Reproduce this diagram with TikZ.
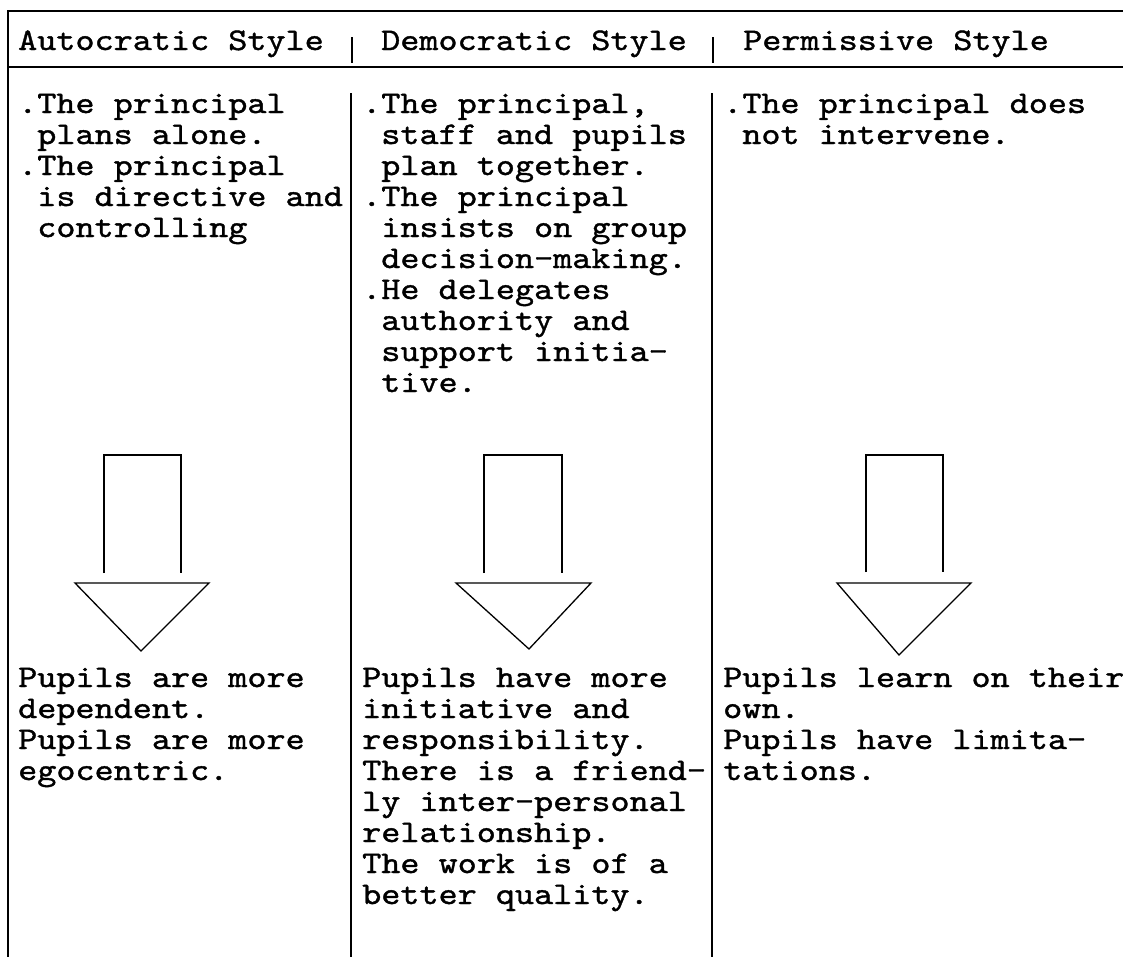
\documentclass[tikz,border=0pt]{standalone}
\usepackage{fontspec}
\newfontfamily\cour[FakeStretch=1.155,FakeBold=1.2]{lmmono10-regular.otf}
\newcommand\rowl[1]{\hbox{#1}}
\newcommand\ind{\phantom{.}}
\begin{document}
\begin{tikzpicture}[x=1pt,y=-1pt,
  rule/.style={line width=1.7pt, black},
  arrowline/.style={line width=1.3pt, black, line join=miter},
  txt/.style={anchor=base west, inner sep=0pt, font=\cour\fontsize{31.5pt}{31pt}\selectfont},
]
\useasboundingbox (0,0) rectangle (1123,961);
% frame
\coordinate (tl) at (8,11);
\coordinate (tr) at (1123,11);
\coordinate (bl) at (8,957);
\draw[rule] (tr) -- (tl) -- (bl);
\coordinate (hl) at (8,67);
\coordinate (hr) at (1123,67);
\draw[rule] (hl) -- (hr);
% header bars
\coordinate (hb1t) at (352,37); \coordinate (hb1b) at (352,63);
\coordinate (hb2t) at (713,37); \coordinate (hb2b) at (713,63);
\draw[rule] (hb1t) -- (hb1b);
\draw[rule] (hb2t) -- (hb2b);
% column dividers
\coordinate (d1t) at (351,93); \coordinate (d1b) at (351,957);
\coordinate (d2t) at (712,93); \coordinate (d2b) at (712,957);
\draw[rule] (d1t) -- (d1b);
\draw[rule] (d2t) -- (d2b);
% header
\node[txt] (h1) at (18,50) {Autocratic Style};
\node[txt] (h2) at (381,50) {Democratic Style};
\node[txt] (h3) at (743,50) {Permissive Style};
% top texts
\node[txt] (t1) at (18,113) {\vtop{\rowl{.The principal}\rowl{\ind plans alone.}\rowl{.The principal}\rowl{\ind is directive and}\rowl{\ind controlling}}};
\node[txt] (t2) at (362,113) {\vtop{\rowl{.The principal,}\rowl{\ind staff and pupils}\rowl{\ind plan together.}\rowl{.The principal}\rowl{\ind insists on group}\rowl{\ind decision-making.}\rowl{.He delegates}\rowl{\ind authority and}\rowl{\ind support initia-}\rowl{\ind tive.}}};
\node[txt] (t3) at (723,113) {\vtop{\rowl{.The principal does}\rowl{\ind not intervene.}}};
% arrows
\draw[arrowline] (104,573) -- (104,455) -- (181,455) -- (181,573);
\draw[arrowline] (75,583) -- (209,583) -- (141,651) -- cycle;
\draw[arrowline] (484,573) -- (484,455) -- (562,455) -- (562,573);
\draw[arrowline] (456,583) -- (591,583) -- (529,649) -- cycle;
\draw[arrowline] (866,572) -- (866,455) -- (943,455) -- (943,572);
\draw[arrowline] (837,583) -- (971,583) -- (899,655) -- cycle;
% bottom texts
\node[txt] (b1) at (18,687) {\vtop{\rowl{Pupils are more}\rowl{dependent.}\rowl{Pupils are more}\rowl{egocentric.}}};
\node[txt] (b2) at (362,687) {\vtop{\rowl{Pupils have more}\rowl{initiative and}\rowl{responsibility.}\rowl{There is a friend-}\rowl{ly inter-personal}\rowl{relationship.}\rowl{The work is of a}\rowl{better quality.}}};
\node[txt] (b3) at (723,687) {\vtop{\rowl{Pupils learn on their}\rowl{own.}\rowl{Pupils have limita-}\rowl{tations.}}};
\end{tikzpicture}
\end{document}
